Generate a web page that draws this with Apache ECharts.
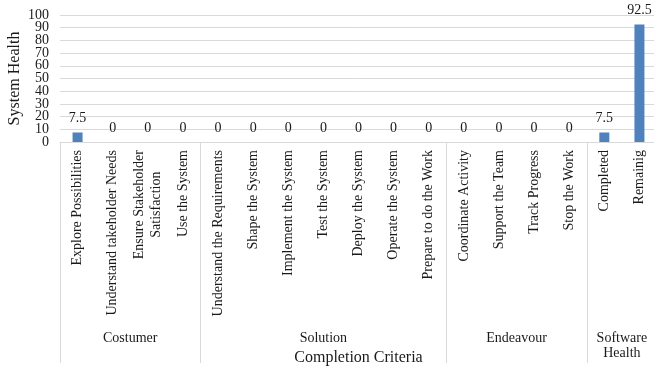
<!DOCTYPE html>
<html>
<head>
<meta charset="utf-8">
<script src="https://cdn.jsdelivr.net/npm/echarts@6/dist/echarts.min.js"></script>
<style>
  html, body { margin: 0; padding: 0; background: #fff; }
  #chart { width: 654px; height: 368px; }
</style>
</head>
<body>
<div id="chart"></div>
<script>
// Completion criteria, grouped by area
const categories = [
  'Explore Possibilities', 'Understand takeholder Needs', 'Ensure Stakeholder\nSatisfaction', 'Use the System',
  'Understand the Requirements', 'Shape the System', 'Implement the System', 'Test the System',
  'Deploy the System', 'Operate the System', 'Prepare to do the Work',
  'Coordinate Activity', 'Support the Team', 'Track Progress', 'Stop the Work',
  'Completed', 'Remainig'
];
const healthValues = [7.5, 0, 0, 0, 0, 0, 0, 0, 0, 0, 0, 0, 0, 0, 0, 7.5, 92.5];

// Group names and where each group starts / ends along the category axis
const groupNames = ['Costumer', 'Solution', 'Endeavour', 'Software\nHealth'];
const groupBounds = [0, 4, 11, 15, 17];

// Value-axis tick labels, split over two label rows so none gets dropped
const yTicksEven = [0, 20, 40, 60, 80, 100];
const yTicksOdd = [10, 30, 50, 70, 90];

const groupCenters = groupNames.map((_, i) => (groupBounds[i] + groupBounds[i + 1]) / 2);

const FONT = '"Liberation Serif", "Times New Roman", serif';
const TEXT = '#1a1a1a';
const LINE = '#d9d9d9';

const yLabel = values => ({
  margin: 11,
  color: TEXT,
  fontFamily: FONT,
  fontSize: 14,
  customValues: values,
  showMinLabel: true,
  showMaxLabel: true,
  hideOverlap: false
});

const chart = echarts.init(document.getElementById('chart'), null, { renderer: 'canvas' });
chart.setOption({
  animation: false,
  textStyle: { fontFamily: FONT },
  grid: { left: 60, right: -3, top: 15, bottom: 226, containLabel: false, outerBoundsMode: 'none' },
  xAxis: [
    {
      type: 'category',
      data: categories,
      position: 'bottom',
      axisLine: { show: true, lineStyle: { color: LINE, width: 1 } },
      axisTick: { show: false },
      axisLabel: {
        interval: 0,
        rotate: 90,
        margin: 8,
        color: TEXT,
        fontFamily: FONT,
        fontSize: 14,
        formatter: v => v.split('\n').map(s => '{c|' + s + '}').join('\n'),
        rich: { c: { align: 'center', fontFamily: FONT, fontSize: 14, color: TEXT, lineHeight: 17 } }
      },
      name: 'Completion Criteria',
      nameLocation: 'middle',
      nameGap: 208,
      nameMoveOverlap: false,
      nameTextStyle: { fontFamily: FONT, fontSize: 16, color: TEXT }
    },
    {
      type: 'value',
      min: 0,
      max: 17,
      position: 'bottom',
      axisLine: { show: false },
      splitLine: { show: false },
      axisTick: {
        show: true,
        length: 221,
        customValues: groupBounds,
        lineStyle: { color: LINE, width: 1 }
      },
      axisLabel: {
        show: true,
        margin: 189,
        customValues: groupCenters,
        formatter: v => groupNames[groupCenters.indexOf(v)] || '',
        color: TEXT,
        fontFamily: FONT,
        fontSize: 14,
        lineHeight: 15,
        align: 'center'
      }
    }
  ],
  yAxis: [
    {
      type: 'value',
      min: 0,
      max: 100,
      interval: 10,
      position: 'left',
      axisLine: { show: false },
      axisTick: { show: false },
      splitLine: { lineStyle: { color: LINE, width: 1 } },
      axisLabel: yLabel(yTicksEven),
      name: 'System Health',
      nameLocation: 'middle',
      nameGap: 37,
      nameMoveOverlap: false,
      nameTextStyle: { fontFamily: FONT, fontSize: 16, color: TEXT }
    },
    {
      type: 'value',
      min: 0,
      max: 100,
      position: 'left',
      offset: 0,
      axisLine: { show: false },
      axisTick: { show: false },
      splitLine: { show: false },
      axisLabel: yLabel(yTicksOdd)
    }
  ],
  series: [{
    type: 'bar',
    xAxisIndex: 0,
    yAxisIndex: 0,
    data: healthValues,
    barWidth: 10,
    itemStyle: { color: '#4f81bd' },
    label: {
      show: true,
      position: 'top',
      distance: 7,
      color: TEXT,
      fontFamily: FONT,
      fontSize: 14
    }
  }]
});
</script>
</body>
</html>
